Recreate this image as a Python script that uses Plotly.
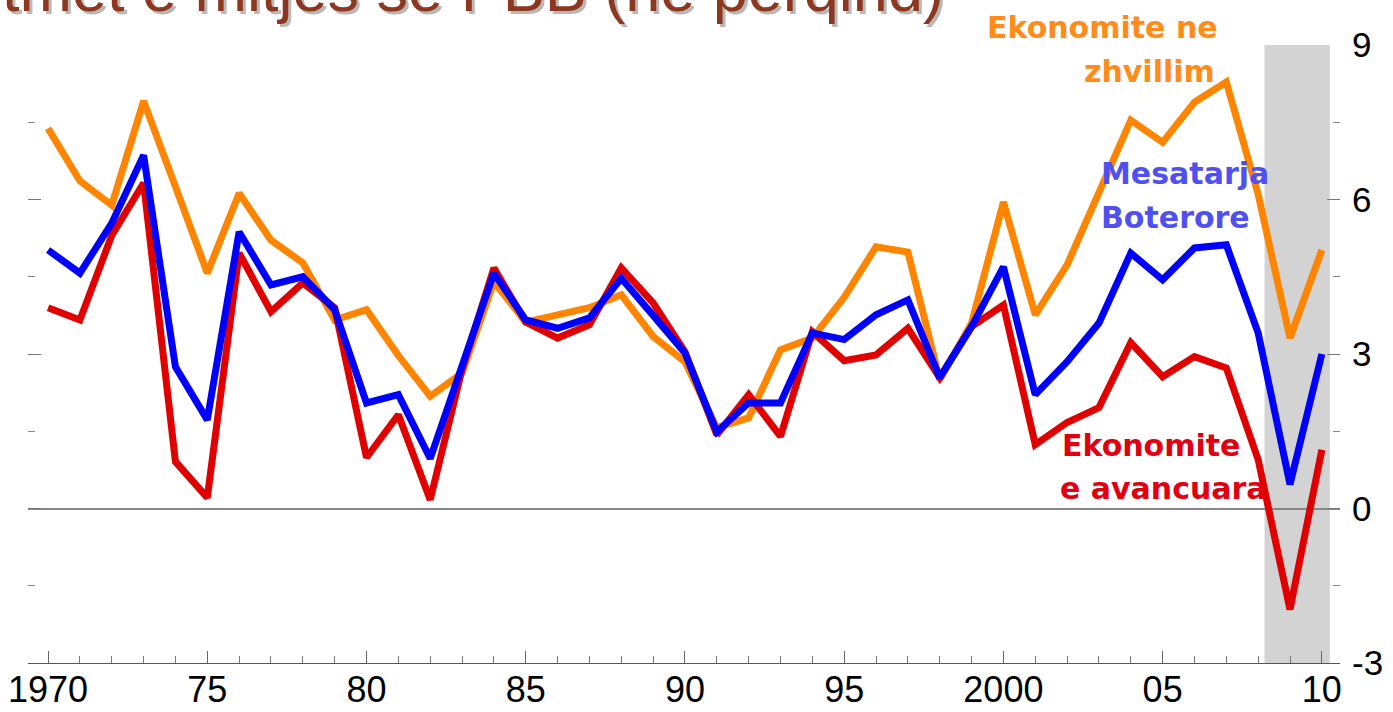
import plotly.graph_objects as go

years = list(range(1970, 2011))

developing = [7.38, 6.36, 5.89, 7.91, 6.25, 4.57, 6.12, 5.21, 4.77, 3.66,
              3.86, 2.97, 2.18, 2.63, 4.40, 3.62, 3.76, 3.90, 4.15, 3.34,
              2.85, 1.57, 1.76, 3.08, 3.31, 4.10, 5.08, 4.98, 2.50, 3.60,
              5.95, 3.76, 4.73, 6.12, 7.54, 7.11, 7.89, 8.28, 6.10, 3.31,
              5.02]

world = [5.02, 4.57, 5.54, 6.86, 2.75, 1.72, 5.37, 4.34, 4.50, 3.86,
         2.05, 2.21, 0.97, 2.75, 4.57, 3.66, 3.50, 3.70, 4.47, 3.75,
         3.02, 1.49, 2.05, 2.05, 3.41, 3.28, 3.76, 4.05, 2.54, 3.53,
         4.69, 2.21, 2.85, 3.60, 4.96, 4.44, 5.06, 5.12, 3.41, 0.47,
         3.00]

advanced = [3.90, 3.66, 5.30, 6.32, 0.91, 0.21, 4.96, 3.82, 4.38, 3.90,
            0.99, 1.82, 0.17, 2.70, 4.67, 3.62, 3.31, 3.57, 4.67, 3.99,
            3.04, 1.43, 2.21, 1.40, 3.43, 2.87, 2.98, 3.50, 2.54, 3.53,
            3.95, 1.24, 1.67, 1.96, 3.22, 2.56, 2.95, 2.73, 0.95, -1.96,
            1.14]

x_tickvals = [1970, 1975, 1980, 1985, 1990, 1995, 2000, 2005, 2010]
x_ticktext = ["1970", "75", "80", "85", "90", "95", "2000", "05", "10"]
y_tickvals = [-3, 0, 3, 6, 9]
y_ticktext = ["-3", "0", "3", "6", "9"]
y_minor = [-1.5, 1.5, 4.5, 7.5]
recession = [2008.2, 2010.25]

title_text = "tmet e mitjes se PBB (ne perqind)"

ORANGE = "#FF8400"
BLUE = "#0000FF"
RED = "#E00000"

W, H = 1393, 712
ML, MR, MT, MB = 28, 53, 45, 49
PW, PH = W - ML - MR, H - MT - MB


def px(xp):
    return (xp - ML) / PW


def py(yp):
    return (H - MB - yp) / PH


fig = go.Figure()
fig.add_trace(go.Scatter(x=years, y=developing, mode="lines",
                         line=dict(color=ORANGE, width=7), showlegend=False))
fig.add_trace(go.Scatter(x=years, y=advanced, mode="lines",
                         line=dict(color=RED, width=7), showlegend=False))
fig.add_trace(go.Scatter(x=years, y=world, mode="lines",
                         line=dict(color=BLUE, width=7), showlegend=False))

fig.add_shape(type="rect", xref="x", yref="y", x0=recession[0], x1=recession[1],
              y0=-3, y1=9, fillcolor="#D3D3D3", line=dict(width=0), layer="below")


def label(text, x, y, color, xanchor):
    fig.add_annotation(text="<b>%s</b>" % text, x=px(x), y=py(y),
                       xref="paper", yref="paper",
                       showarrow=False, xanchor=xanchor, yanchor="middle",
                       font=dict(family="DejaVu Sans", size=30, color=color))


label("Ekonomite ne", 1220, 27, "#FF8C1A", "right")
label("zhvillim", 1217, 71, "#FF8C1A", "right")
label("Mesatarja", 1099, 173, "#5050F0", "left")
label("Boterore", 1099, 217, "#5050F0", "left")
label("Ekonomite", 1060, 445, "#E00010", "left")
label("e avancuara", 1058, 488, "#E00010", "left")

# title with drop shadow (cropped at the top as in the reference)
for dx, dy, col in [(3, -3, "#B8B8B8"), (0, 0, "#8C371E")]:
    fig.add_annotation(text=title_text, xref="paper", yref="paper",
                       x=px(0), y=py(-11), xanchor="left", yanchor="middle",
                       xshift=dx, yshift=dy, showarrow=False,
                       font=dict(family="Liberation Sans, Arial", size=63, color=col))

fig.update_layout(
    width=W, height=H,
    margin=dict(l=ML, r=MR, t=MT, b=MB, autoexpand=False),
    paper_bgcolor="white", plot_bgcolor="white",
    font=dict(family="Liberation Sans, Arial", color="black"),
    xaxis=dict(range=[1969.37, 2010.57], tickvals=x_tickvals, ticktext=x_ticktext,
               ticks="inside", ticklen=12, tickwidth=1.2, tickcolor="#666",
               showline=True, linecolor="#555", linewidth=1.3, showgrid=False,
               zeroline=False, tickfont=dict(size=36), automargin=False,
               ticklabelstandoff=-5,
               minor=dict(dtick=1, tick0=1970, ticks="inside", ticklen=7,
                          tickcolor="#777", tickwidth=1, showgrid=False)),
    yaxis=dict(range=[-3, 9], side="right", tickvals=y_tickvals, ticktext=y_ticktext,
               ticks="inside", ticklen=13, tickwidth=1.2, tickcolor="#777",
               showline=False, showgrid=False, mirror="ticks", automargin=False,
               zeroline=True, zerolinecolor="#888", zerolinewidth=1.5,
               ticklabelstandoff=11, tickfont=dict(size=35),
               minor=dict(tickvals=y_minor, ticks="inside", ticklen=7,
                          tickcolor="#888", tickwidth=1, showgrid=False)),
)

fig.write_html("out.html",
               config={"displayModeBar": False},
               post_script="document.body.style.margin='0';"
                           "document.body.style.overflow='hidden';")
